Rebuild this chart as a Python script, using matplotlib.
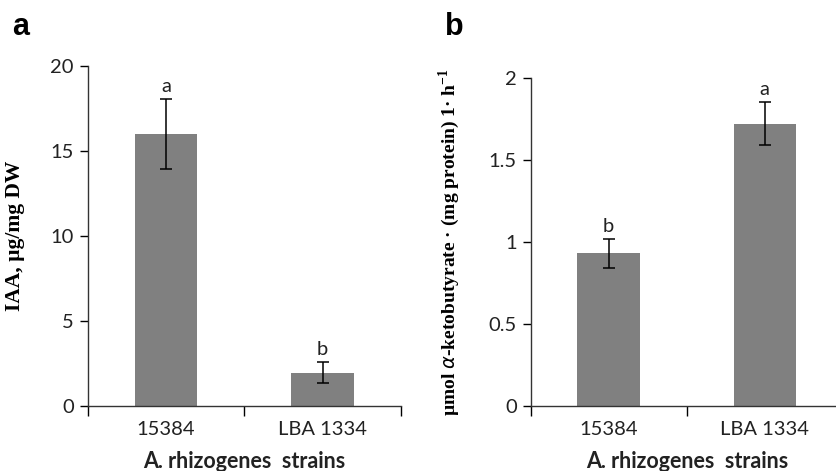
import matplotlib
matplotlib.use("Agg")
import matplotlib.pyplot as plt

# data
strains = ["15384", "LBA 1334"]
iaa = [16.0, 1.95]
iaa_err = [2.05, 0.62]
iaa_letters = ["a", "b"]
acc = [0.93, 1.72]
acc_err = [0.087, 0.13]
acc_letters = ["b", "a"]

bar_color = "#808080"
tick_font = "Lato"
txt_color = "#222222"

fig = plt.figure(figsize=(8.37, 4.71), dpi=100)
ax_a = fig.add_axes([0.105, 0.138, 0.374, 0.722])
ax_b = fig.add_axes([0.634, 0.138, 0.373, 0.697])


def draw_panel(ax, values, errors, letters, ylim, yticks, yticklabels, ylabel, ysize):
    x = list(range(len(strains)))
    ax.bar(x, values, width=0.4, color=bar_color, zorder=2)
    ax.errorbar(x, values, yerr=errors, fmt="none", ecolor="black",
                elinewidth=1.1, capsize=4.5, capthick=1.1, zorder=3)
    for xi, v, e, lab in zip(x, values, errors, letters):
        ax.annotate(lab, (xi, v + e), xytext=(0, 5), textcoords="offset points",
                    ha="center", va="baseline", fontsize=14.5, family=tick_font,
                    color=txt_color)
    ax.set_xlim(-0.5, 1.5)
    ax.set_ylim(*ylim)
    ax.set_yticks(yticks)
    ax.set_yticklabels(yticklabels, family=tick_font, fontsize=14.5, color=txt_color)
    ax.set_xticks([-0.5, 0.5, 1.5])
    ax.set_xticklabels(["", "", ""])
    ax.set_xticks(x, minor=True)
    ax.set_xticklabels(strains, minor=True, family=tick_font, fontsize=14.5, color=txt_color)
    ax.tick_params(axis="x", which="minor", length=0, pad=11)
    ax.tick_params(axis="x", which="major", length=7, width=1, direction="out")
    ax.tick_params(axis="y", length=6, width=1, direction="out", pad=4)
    for side in ["top", "right"]:
        ax.spines[side].set_visible(False)
    for side in ["left", "bottom"]:
        ax.spines[side].set_linewidth(1.0)
        ax.spines[side].set_color("#333333")
    ax.set_xlabel("A. rhizogenes  strains", family=tick_font, fontweight="bold",
                  fontsize=15.5, labelpad=9, color=txt_color)
    ax.set_ylabel(ylabel, family="Liberation Serif", fontweight="bold", fontsize=ysize)
    ax.set_facecolor("none")


draw_panel(ax_a, iaa, iaa_err, iaa_letters, (0, 20), [0, 5, 10, 15, 20],
           ["0", "5", "10", "15", "20"], "IAA, µg/mg DW", 15.5)
draw_panel(ax_b, acc, acc_err, acc_letters, (0, 2), [0, 0.5, 1, 1.5, 2],
           ["0", "0.5", "1", "1.5", "2"],
           r"µmol $\mathit{\alpha}$-ketobutyrate · (mg protein) 1· h$^{\mathregular{-1}}$", 14)
ax_a.yaxis.set_label_coords(-0.2, 0.5)
ax_b.yaxis.set_label_coords(-0.22, 0.5)

fig.text(0.014, 0.925, "a", family="Liberation Sans", fontweight="bold", fontsize=22)
fig.text(0.532, 0.925, "b", family="Liberation Sans", fontweight="bold", fontsize=22)

fig.savefig("out.png", dpi=100)
